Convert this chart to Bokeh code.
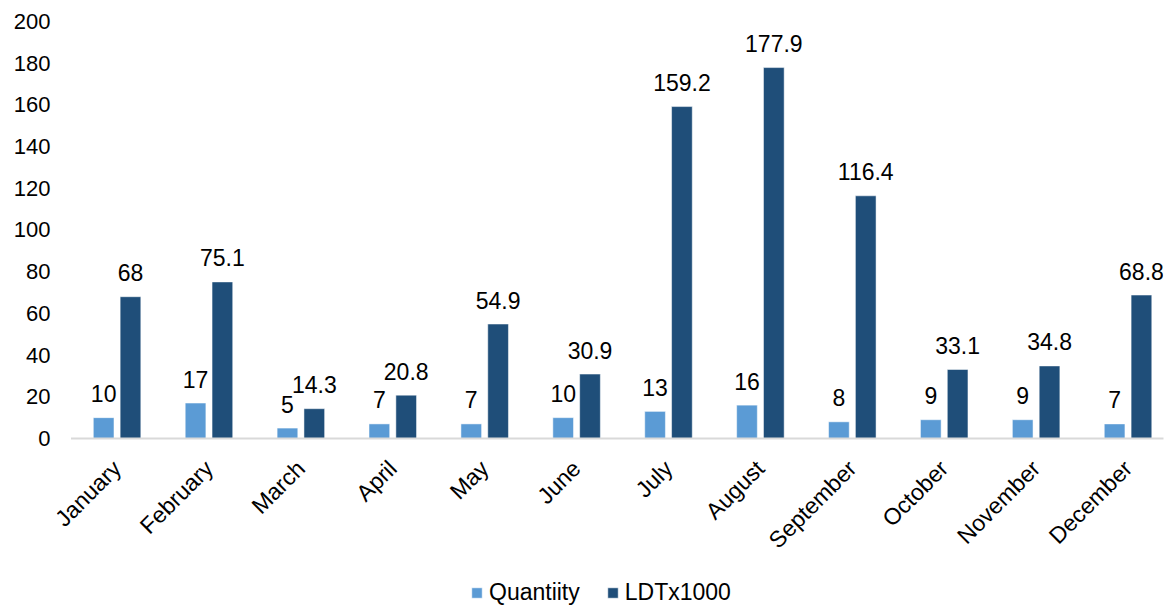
import math
from bokeh.plotting import figure
from bokeh.models import Range1d, FixedTicker, ColumnDataSource, Legend, LegendItem
from bokeh.core.properties import value
from bokeh.transform import dodge
from bokeh.embed import file_html
from bokeh.resources import INLINE

months = ["January", "February", "March", "April", "May", "June", "July",
          "August", "September", "October", "November", "December"]
quantity = [10, 17, 5, 7, 7, 10, 13, 16, 8, 9, 9, 7]
ldt = [68, 75.1, 14.3, 20.8, 54.9, 30.9, 159.2, 177.9, 116.4, 33.1, 34.8, 68.8]
y_ticks = [0, 20, 40, 60, 80, 100, 120, 140, 160, 180, 200]

def fmt(v):
    return str(int(v)) if float(v).is_integer() else str(v)

xs = list(range(len(months)))
src = ColumnDataSource(dict(
    x=xs, q=quantity, l=ldt, m=months, base=[0] * len(months),
    ql=[fmt(v) for v in quantity], ll=[fmt(v) for v in ldt],
))

FONT = "Liberation Sans"
LIGHT = "#5B9BD5"
DARK = "#1F4E79"

# 417 px of frame for 0..200; extra 168 px below zero hold month labels and legend
p = figure(frame_width=1107, frame_height=585, output_backend="svg", toolbar_location=None,
           x_range=Range1d(-0.658, 11.387), y_range=Range1d(-80.58, 200),
           x_axis_location=None,
           min_border_left=56, min_border_right=3, min_border_top=21, min_border_bottom=0)
p.outline_line_color = None
p.xgrid.grid_line_color = None
p.ygrid.grid_line_color = None

W = 0.225
r1 = p.vbar(x=dodge("x", -0.145, range=p.x_range), top="q", width=W, source=src,
            fill_color=LIGHT, line_color="white", line_width=0.5)
r2 = p.vbar(x=dodge("x", 0.147, range=p.x_range), top="l", width=W, source=src,
            fill_color=DARK, line_color="white", line_width=0.5)

# category axis baseline spanning the category band
p.segment(x0=[xs[0] - 0.5], x1=[xs[-1] + 0.5], y0=[0], y1=[0],
          line_color="#D9D9D9", line_width=2)

p.text(x=dodge("x", -0.145, range=p.x_range), y="q", text="ql", source=src,
       text_align="center", text_baseline="alphabetic", y_offset=-24,
       text_font=value(FONT), text_font_size="23px", text_color="black")
p.text(x=dodge("x", 0.147, range=p.x_range), y="l", text="ll", source=src,
       text_align="center", text_baseline="alphabetic", y_offset=-24,
       text_font=value(FONT), text_font_size="23px", text_color="black")

# month labels (category axis labels), rotated 45 degrees
p.text(x="x", y="base", text="m", source=src, angle=math.pi / 4,
       text_align="right", text_baseline="middle", y_offset=26,
       text_font=value(FONT), text_font_size="23px", text_color="black")

# y axis
ya = p.yaxis[0]
ya.ticker = FixedTicker(ticks=y_ticks)
ya.axis_line_color = None
ya.major_tick_line_color = None
ya.minor_tick_line_color = None
ya.major_tick_out = 0
ya.major_label_standoff = 6
ya.major_label_text_font = FONT
ya.major_label_text_font_size = "22px"
ya.major_label_text_color = "black"

legend = Legend(items=[LegendItem(label="Quantiity", renderers=[r1]),
                       LegendItem(label="LDTx1000", renderers=[r2])],
                orientation="horizontal", location=(414, 0))
legend.border_line_color = None
legend.background_fill_alpha = 0
legend.glyph_width = 13
legend.glyph_height = 13
legend.label_standoff = 6
legend.spacing = 26
legend.padding = 0
legend.margin = 0
legend.label_text_font = FONT
legend.label_text_font_size = "23px"
legend.label_text_color = "black"
p.add_layout(legend, "center")

open("out.html", "w").write(file_html(p, INLINE))
